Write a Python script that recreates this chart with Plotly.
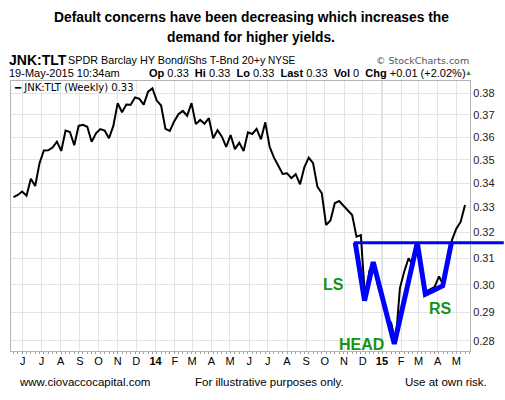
import pandas as pd
import plotly.graph_objects as go

# weekly JNK:TLT ratio
start_date = "2013-05-17"
ratio = [
    0.3343, 0.3352, 0.3366, 0.3349, 0.3420, 0.3389, 0.3486, 0.3541, 0.3542, 0.3554,
    0.3580, 0.3539, 0.3629, 0.3623, 0.3564, 0.3650, 0.3655, 0.3646, 0.3579, 0.3617,
    0.3636, 0.3629, 0.3595, 0.3650, 0.3754, 0.3712, 0.3748, 0.3747, 0.3781, 0.3774,
    0.3747, 0.3808, 0.3823, 0.3766, 0.3743, 0.3637, 0.3628, 0.3670, 0.3703, 0.3718,
    0.3696, 0.3754, 0.3658, 0.3677, 0.3660, 0.3685, 0.3595, 0.3631, 0.3602, 0.3557,
    0.3609, 0.3547, 0.3575, 0.3539, 0.3621, 0.3614, 0.3637, 0.3590, 0.3666, 0.3557,
    0.3510, 0.3474, 0.3440, 0.3443, 0.3422, 0.3439, 0.3396, 0.3469, 0.3510, 0.3486,
    0.3386, 0.3359, 0.3230, 0.3248, 0.3318, 0.3327, 0.3308, 0.3290, 0.3270, 0.3184,
    0.3190, 0.2945, 0.3054, 0.3075, 0.2993, 0.2945, 0.2880, 0.2862, 0.2792, 0.2988,
    0.3050, 0.3100, 0.3073, 0.3157, 0.3055, 0.2975, 0.2982, 0.2992, 0.3031, 0.3000,
    0.3093, 0.3171, 0.3215, 0.3243, 0.3311,
]
dates = pd.date_range(start_date, periods=len(ratio), freq="7D")

# hand drawn head & shoulders
hs_dates = ["2014-11-19", "2014-12-04", "2014-12-18", "2015-01-21",
            "2015-02-27", "2015-03-12", "2015-04-09", "2015-04-23"]
hs_vals = [0.316, 0.2942, 0.3085, 0.2789, 0.316, 0.2965, 0.2996, 0.316]
neckline = 0.316

month_ticks = pd.date_range("2013-06-01", "2015-05-01", freq="MS")
month_text = ["<b>%s</b>" % d.strftime("%y") if d.month == 1 else d.strftime("%b")[0]
              for d in month_ticks]
y_ticks = [0.28, 0.29, 0.30, 0.31, 0.32, 0.33, 0.34, 0.35, 0.36, 0.37, 0.38]

# plot box in pixels
L, R, T, B = 10, 472, 81, 351

def px(x):
    return (x - L) / (R - L)

def py(y):
    return (B - y) / (B - T)

fig = go.Figure()
fig.add_trace(go.Scatter(x=dates, y=ratio, mode="lines",
                         line=dict(color="black", width=2), hoverinfo="skip"))
fig.add_trace(go.Scatter(x=hs_dates, y=hs_vals, mode="lines",
                         line=dict(color="#0000ff", width=5), hoverinfo="skip"))

shapes = []
for jan in ["2014-01-01", "2015-01-01"]:
    shapes.append(dict(type="line", xref="x", yref="paper", x0=jan, x1=jan, y0=0, y1=1,
                       line=dict(color="#b4b4b4", width=1), layer="below"))
shapes.append(dict(type="line", xref="paper", yref="y", x0=px(355), x1=px(506),
                   y0=neckline, y1=neckline, line=dict(color="#0000ff", width=3)))

arial = "Liberation Sans, Arial, sans-serif"
verd = "DejaVu Sans, Verdana, sans-serif"

def txt(s, x, y, size=11, anchor="left", font=arial, color="black"):
    return dict(text=s, x=px(x), y=py(y), xref="paper", yref="paper",
                xanchor=anchor, yanchor="middle", showarrow=False,
                font=dict(family=font, size=size, color=color))

ann = [
    txt("<b>Default concerns have been decreasing which increases the</b>", 252, 17, 13.8, "center"),
    txt("<b>demand for higher yields.</b>", 252, 37, 13.8, "center"),
    txt("<b>JNK:TLT</b>", 6, 60, 14),
    txt("SPDR Barclay HY Bond/iShs T-Bnd 20+y", 65, 60, 10.8),
    txt("NYSE", 267, 60, 10),
    txt("© StockCharts.com", 473, 60, 9.5, "right", verd, "#555555"),
    txt("19-May-2015 10:34am", 6, 73, 11),
    txt("<b>Op</b> 0.33  <b>Hi</b> 0.33  <b>Lo</b> 0.33  <b>Last</b> 0.33  "
        "<b>Vol</b> 0  <b>Chg</b> +0.01 (+2.02%)", 147, 73, 11),
    txt("▲", 465, 73, 7, color="#2e8b2e"),
    txt("<b>━</b> JNK:TLT (Weekly) 0.33", 11, 87, 10, font=verd),
    txt("<b>LS</b>", 335, 284, 16, "center", color="#139413"),
    txt("<b>HEAD</b>", 363, 344, 16, "center", color="#139413"),
    txt("<b>RS</b>", 442, 308, 16, "center", color="#139413"),
    txt("www.ciovaccocapital.com", 16, 382, 11.5),
    txt("For illustrative purposes only.", 193, 382, 11.5),
    txt("Use at own risk.", 405, 382, 11.5),
]

fig.update_layout(
    width=505, height=400,
    margin=dict(l=L, r=505 - R, t=T, b=400 - B),
    paper_bgcolor="white", plot_bgcolor="white",
    showlegend=False,
    shapes=shapes, annotations=ann,
    xaxis=dict(type="date", range=["2013-05-13", "2015-05-23"],
               tickvals=month_ticks, ticktext=month_text,
               showgrid=True, gridcolor="#e3e3e3", gridwidth=1,
               showline=True, linecolor="#b4b4b4", mirror=True,
               ticks="", tickfont=dict(family=arial, size=11, color="black"),
               minor=dict(ticks="outside", ticklen=2, tickcolor="#a0a0a0",
                          tick0=start_date, dtick=7 * 86400000, showgrid=False),
               zeroline=False),
    yaxis=dict(type="log", side="right", range=[-0.55836, -0.41363],
               tickvals=y_ticks, ticktext=["%.2f" % v for v in y_ticks],
               showgrid=True, gridcolor="#e3e3e3", gridwidth=1,
               showline=True, linecolor="#b4b4b4", mirror=True,
               ticks="", tickfont=dict(family=arial, size=11, color="#222222"),
               zeroline=False),
)

# browser default body margin would shift the figure by 8px
fig.write_html("out.html", config={"displayModeBar": False},
               post_script="document.body.style.margin='0';")
